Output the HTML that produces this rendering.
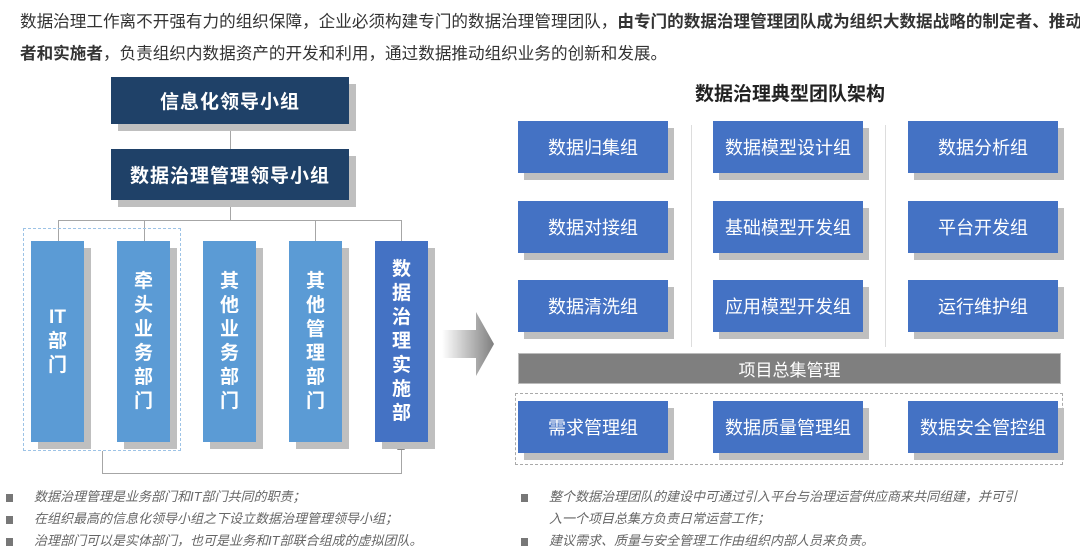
<!DOCTYPE html>
<html><head><meta charset="utf-8"><style>
*{margin:0;padding:0;box-sizing:border-box}
body{width:1080px;height:554px;background:#fff;position:relative;overflow:hidden;font-family:"Liberation Sans","Noto Sans CJK SC",sans-serif}
.a{position:absolute}
.top{left:20px;top:6px;width:1062px;font-size:16.6px;line-height:32px;color:#333}
.bx{position:absolute;color:#fff;display:flex;align-items:center;justify-content:center;text-align:center}
.nav{background:#1f4168;box-shadow:7px 7px 0 #bfbfbf;font-weight:bold;font-size:19px;letter-spacing:1px}
.col{background:#5b9bd5;box-shadow:7px 7px 0 #bfbfbf;font-weight:bold;font-size:19px;line-height:24px;width:53px;height:201px;top:241px}
.col.d{background:#4472c4}
.rb{background:#4472c4;box-shadow:6px 7px 0 #bfbfbf;font-size:18px;width:150px;height:52px}
.l{position:absolute;background:#a6a6a6}
.bul{position:absolute;font-size:13px;font-style:italic;color:#666;line-height:22px}
.bul span{display:inline-block;width:7px;height:8px;background:#777;margin-right:21px;vertical-align:middle}
</style></head><body>
<div class="a top">数据治理工作离不开强有力的组织保障，企业必须构建专门的数据治理管理团队，<b>由专门的数据治理管理团队成为组织大数据战略的制定者、推动者和实施者</b>，负责组织内数据资产的开发和利用，通过数据推动组织业务的创新和发展。</div>

<div class="l" style="left:230px;top:123px;width:1px;height:26px"></div>
<div class="l" style="left:230px;top:200px;width:1px;height:21px"></div>
<div class="l" style="left:58px;top:220px;width:344px;height:1px"></div>
<div class="l" style="left:58px;top:220px;width:1px;height:21px"></div>
<div class="l" style="left:144px;top:220px;width:1px;height:21px"></div>
<div class="l" style="left:315px;top:220px;width:1px;height:21px"></div>
<div class="l" style="left:401px;top:220px;width:1px;height:21px"></div>
<div class="l" style="left:102px;top:451px;width:1px;height:22px"></div>
<div class="l" style="left:102px;top:473px;width:300px;height:1px"></div>
<div class="l" style="left:401px;top:448px;width:1px;height:25px"></div>
<div class="a" style="left:397px;top:443px;width:0;height:0;border-left:4px solid transparent;border-right:4px solid transparent;border-bottom:7px solid #888"></div>

<div class="bx nav" style="left:111px;top:77px;width:238px;height:47px">信息化领导小组</div>
<div class="bx nav" style="left:111px;top:149px;width:238px;height:51px">数据治理管理领导小组</div>
<div class="a" style="left:23px;top:228px;width:158px;height:223px;border:1px dashed #9dc3e6"></div>
<div class="bx col" style="left:31px">IT<br>部<br>门</div>
<div class="bx col" style="left:117px">牵<br>头<br>业<br>务<br>部<br>门</div>
<div class="bx col" style="left:203px">其<br>他<br>业<br>务<br>部<br>门</div>
<div class="bx col" style="left:289px">其<br>他<br>管<br>理<br>部<br>门</div>
<div class="bx col d" style="left:375px">数<br>据<br>治<br>理<br>实<br>施<br>部</div>

<svg class="a" style="left:440px;top:310px" width="56" height="68"><defs><linearGradient id="g" x1="0" x2="1"><stop offset="0" stop-color="#fff"/><stop offset="1" stop-color="#7f7f7f"/></linearGradient></defs><polygon points="2,20 36,20 36,2 54,34 36,66 36,48 2,48" fill="url(#g)"/></svg>

<div class="a" style="left:590px;top:79px;width:400px;text-align:center;font-size:19px;font-weight:bold;color:#222">数据治理典型团队架构</div>
<div class="l" style="left:691px;top:125px;width:1px;height:222px;background:#ddd"></div>
<div class="l" style="left:885px;top:125px;width:1px;height:222px;background:#ddd"></div>
<div class="bx rb" style="left:518px;top:121px">数据归集组</div>
<div class="bx rb" style="left:713px;top:121px">数据模型设计组</div>
<div class="bx rb" style="left:908px;top:121px">数据分析组</div>
<div class="bx rb" style="left:518px;top:201px">数据对接组</div>
<div class="bx rb" style="left:713px;top:201px">基础模型开发组</div>
<div class="bx rb" style="left:908px;top:201px">平台开发组</div>
<div class="bx rb" style="left:518px;top:280px">数据清洗组</div>
<div class="bx rb" style="left:713px;top:280px">应用模型开发组</div>
<div class="bx rb" style="left:908px;top:280px">运行维护组</div>
<div class="bx" style="left:518px;top:353px;width:543px;height:31px;background:#7f7f7f;font-size:17px;color:#fff;border:1px solid #bbb">项目总集管理</div>
<div class="a" style="left:515px;top:393px;width:548px;height:72px;border:1px dashed #aaa"></div>
<div class="bx rb" style="left:518px;top:401px">需求管理组</div>
<div class="bx rb" style="left:713px;top:401px">数据质量管理组</div>
<div class="bx rb" style="left:908px;top:401px">数据安全管控组</div>

<div class="bul" style="left:6px;top:486px"><span></span>数据治理管理是业务部门和IT部门共同的职责；<br><span></span>在组织最高的信息化领导小组之下设立数据治理管理领导小组；<br><span></span>治理部门可以是实体部门，也可是业务和IT部联合组成的虚拟团队。</div>
<div class="bul" style="left:521px;top:486px;width:559px"><span></span>整个数据治理团队的建设中可通过引入平台与治理运营供应商来共同组建，并可引<br><span style="visibility:hidden"></span>入一个项目总集方负责日常运营工作；<br><span></span>建议需求、质量与安全管理工作由组织内部人员来负责。</div>
</body></html>
